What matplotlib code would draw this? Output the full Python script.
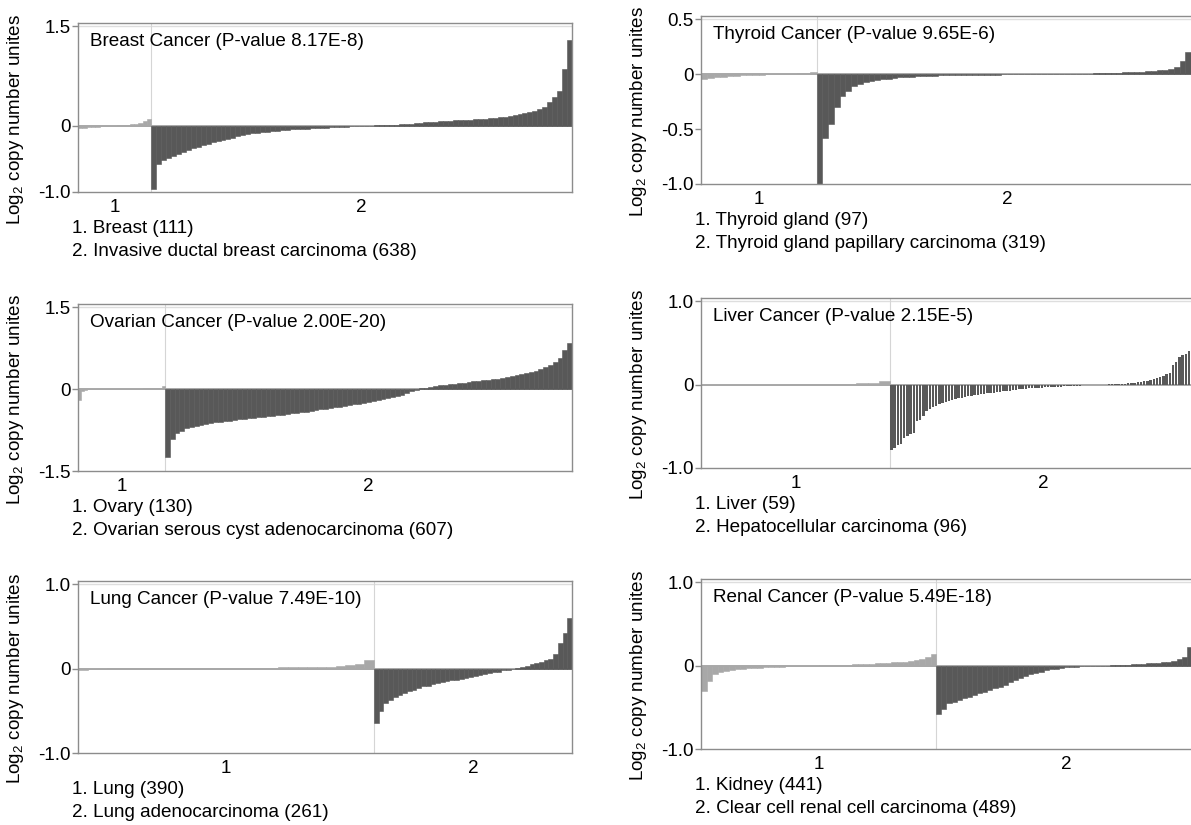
import matplotlib
matplotlib.use("Agg")
import matplotlib.pyplot as plt

plt.rcParams['font.family'] = ['Liberation Sans', 'DejaVu Sans']
plt.rcParams['mathtext.fontset'] = 'custom'
plt.rcParams['mathtext.rm'] = 'Liberation Sans'
plt.rcParams['mathtext.default'] = 'regular'

# ---- data (sorted log2 copy number) ----
breast_title = "Breast Cancer (P-value 8.17E-8)"
breast_names = ["1. Breast (111)", "2. Invasive ductal breast carcinoma (638)"]
breast_counts = [111, 638]
breast_yticks = [-1.0, 0, 1.5]
breast_ylabels = ["-1.0", "0", "1.5"]
breast_normal = [-0.04, -0.03, -0.025, -0.02, -0.015, -0.01, -0.006, -0.003, 0.0, 0.004,
                 0.008, 0.013, 0.02, 0.03, 0.045, 0.07, 0.1]
breast_tumor = [-0.95, -0.58, -0.52, -0.49, -0.46, -0.43, -0.40, -0.37, -0.34, -0.32,
                -0.295, -0.27, -0.25, -0.23, -0.215, -0.20, -0.18, -0.16, -0.14, -0.125,
                -0.115, -0.105, -0.095, -0.088, -0.08, -0.074, -0.068, -0.062, -0.056, -0.05,
                -0.046, -0.042, -0.038, -0.034, -0.03, -0.027, -0.023, -0.019, -0.015, -0.012,
                -0.009, -0.007, -0.005, -0.002, 0.002, 0.004, 0.006, 0.01, 0.014, 0.018,
                0.022, 0.028, 0.033, 0.038, 0.044, 0.05, 0.055, 0.06, 0.065, 0.07,
                0.075, 0.08, 0.084, 0.088, 0.092, 0.096, 0.10, 0.107, 0.112, 0.118,
                0.127, 0.137, 0.147, 0.16, 0.175, 0.19, 0.205, 0.225, 0.25, 0.29,
                0.36, 0.43, 0.53, 0.85, 1.3]

thyroid_title = "Thyroid Cancer (P-value 9.65E-6)"
thyroid_names = ["1. Thyroid gland (97)", "2. Thyroid gland papillary carcinoma (319)"]
thyroid_counts = [97, 319]
thyroid_yticks = [-1.0, -0.5, 0, 0.5]
thyroid_ylabels = ["-1.0", "-0.5", "0", "0.5"]
thyroid_normal = [-0.045, -0.035, -0.028, -0.022, -0.017, -0.013, -0.01, -0.007, -0.005,
                  -0.003, -0.001, 0.0, 0.002, 0.004, 0.006, 0.009, 0.013, 0.02]
thyroid_tumor = [-1.0, -0.58, -0.45, -0.30, -0.20, -0.15, -0.11, -0.09, -0.07, -0.06,
                 -0.05, -0.045, -0.04, -0.035, -0.03, -0.025, -0.022, -0.02, -0.018, -0.015,
                 -0.013, -0.011, -0.01, -0.009, -0.008, -0.007, -0.006, -0.005, -0.004, -0.004,
                 -0.003, -0.003, -0.002, -0.002, -0.001, -0.001, 0.0, 0.0, 0.0, 0.001,
                 0.001, 0.002, 0.002, 0.003, 0.003, 0.004, 0.005, 0.006, 0.007, 0.008,
                 0.01, 0.012, 0.014, 0.016, 0.018, 0.02, 0.023, 0.026, 0.03, 0.035,
                 0.04, 0.05, 0.07, 0.12, 0.2, 0.35]

ovarian_title = "Ovarian Cancer (P-value 2.00E-20)"
ovarian_names = ["1. Ovary (130)", "2. Ovarian serous cyst adenocarcinoma (607)"]
ovarian_counts = [130, 607]
ovarian_yticks = [-1.5, 0, 1.5]
ovarian_ylabels = ["-1.5", "0", "1.5"]
ovarian_normal = [-0.2, -0.03, -0.01, 0.0, 0.0, 0.002, 0.003, 0.004, 0.005, 0.005,
                  0.006, 0.006, 0.007, 0.008, 0.008, 0.009, 0.009, 0.01, 0.01, 0.01,
                  0.011, 0.012, 0.013, 0.014, 0.016, 0.019, 0.025, 0.05]
ovarian_tumor = [-1.25, -0.92, -0.81, -0.76, -0.72, -0.69, -0.67, -0.65, -0.635, -0.62,
                 -0.61, -0.595, -0.585, -0.575, -0.565, -0.555, -0.545, -0.535, -0.525, -0.515,
                 -0.505, -0.495, -0.485, -0.475, -0.465, -0.455, -0.445, -0.435, -0.42, -0.41,
                 -0.40, -0.385, -0.37, -0.36, -0.345, -0.335, -0.32, -0.31, -0.295, -0.28,
                 -0.27, -0.25, -0.235, -0.22, -0.20, -0.18, -0.16, -0.14, -0.12, -0.10,
                 -0.07, -0.04, -0.01, 0.015, 0.03, 0.045, 0.06, 0.07, 0.08, 0.09,
                 0.10, 0.11, 0.12, 0.13, 0.14, 0.15, 0.16, 0.17, 0.18, 0.19,
                 0.205, 0.22, 0.235, 0.25, 0.27, 0.29, 0.305, 0.33, 0.37, 0.40,
                 0.44, 0.49, 0.57, 0.72, 0.85]

liver_title = "Liver Cancer (P-value 2.15E-5)"
liver_names = ["1. Liver (59)", "2. Hepatocellular carcinoma (96)"]
liver_counts = [59, 96]
liver_yticks = [-1.0, 0, 1.0]
liver_ylabels = ["-1.0", "0", "1.0"]
liver_normal = [-0.006, -0.003, -0.002, -0.001, 0.0, 0.0, 0.001, 0.002, 0.003, 0.004,
                0.006, 0.008, 0.01, 0.013, 0.017, 0.025, 0.05]
liver_tumor = [-0.78, -0.76, -0.72, -0.71, -0.64, -0.62, -0.59, -0.58, -0.43, -0.42,
               -0.37, -0.31, -0.29, -0.27, -0.25, -0.235, -0.22, -0.21, -0.2, -0.185,
               -0.175, -0.165, -0.155, -0.145, -0.14, -0.13, -0.125, -0.12, -0.115, -0.11,
               -0.105, -0.1, -0.095, -0.09, -0.085, -0.08, -0.075, -0.07, -0.065, -0.06,
               -0.055, -0.05, -0.048, -0.045, -0.042, -0.04, -0.038, -0.035, -0.032, -0.03,
               -0.028, -0.026, -0.024, -0.022, -0.02, -0.018, -0.016, -0.014, -0.012, -0.01,
               -0.008, -0.006, -0.004, -0.003, -0.002, -0.001, 0.0, 0.0,
               0.003, 0.005, 0.007, 0.009, 0.011, 0.014, 0.017, 0.02, 0.025, 0.03,
               0.035, 0.04, 0.05, 0.06, 0.07, 0.08, 0.09, 0.1, 0.13, 0.14,
               0.24, 0.27, 0.33, 0.36, 0.37, 0.4, 0.55, 0.6]

lung_title = "Lung Cancer (P-value 7.49E-10)"
lung_names = ["1. Lung (390)", "2. Lung adenocarcinoma (261)"]
lung_counts = [390, 261]
lung_yticks = [-1.0, 0, 1.0]
lung_ylabels = ["-1.0", "0", "1.0"]
lung_normal = [-0.01, 0.0, 0.002, 0.003, 0.004, 0.005, 0.005, 0.006, 0.006, 0.007,
               0.007, 0.008, 0.008, 0.009, 0.009, 0.01, 0.01, 0.011, 0.012, 0.013,
               0.014, 0.015, 0.016, 0.018, 0.02, 0.022, 0.025, 0.03, 0.04, 0.06, 0.1]
lung_tumor = [-0.65, -0.50, -0.41, -0.37, -0.33, -0.31, -0.29, -0.27, -0.25, -0.23,
              -0.21, -0.2, -0.185, -0.17, -0.16, -0.15, -0.14, -0.13, -0.12, -0.11,
              -0.095, -0.085, -0.075, -0.065, -0.055, -0.045, -0.035, -0.02, -0.01, 0.0,
              0.01, 0.025, 0.035, 0.05, 0.065, 0.08, 0.1, 0.12, 0.17, 0.3, 0.42, 0.6]

renal_title = "Renal Cancer (P-value 5.49E-18)"
renal_names = ["1. Kidney (441)", "2. Clear cell renal cell carcinoma (489)"]
renal_counts = [441, 489]
renal_yticks = [-1.0, 0, 1.0]
renal_ylabels = ["-1.0", "0", "1.0"]
renal_normal = [-0.3, -0.18, -0.1, -0.075, -0.06, -0.05, -0.042, -0.036, -0.03, -0.026,
                -0.022, -0.018, -0.015, -0.012, -0.01, -0.008, -0.006, -0.004, -0.002, 0.0,
                0.001, 0.003, 0.005, 0.007, 0.009, 0.011, 0.013, 0.016, 0.019, 0.022,
                0.025, 0.028, 0.032, 0.036, 0.04, 0.045, 0.05, 0.06, 0.07, 0.085, 0.1, 0.14]
renal_tumor = [-0.58, -0.52, -0.45, -0.43, -0.41, -0.39, -0.37, -0.35, -0.33, -0.31,
               -0.29, -0.27, -0.25, -0.23, -0.2, -0.175, -0.15, -0.125, -0.1, -0.085,
               -0.07, -0.055, -0.045, -0.035, -0.028, -0.02, -0.016, -0.012, -0.008, -0.006,
               -0.004, -0.002, 0.0, 0.002, 0.004, 0.007, 0.01, 0.013, 0.016, 0.02,
               0.023, 0.027, 0.031, 0.036, 0.042, 0.05, 0.06, 0.075, 0.11, 0.22, 0.35]

# ---- styling / layout ----
FIG_W, FIG_H = 1191, 825
LIGHT = "#a8a8a8"
DARK = "#585858"
FRAME = "#8c8c8c"
FS = 13.6


def place(left, top, right, bottom):
    return [left / FIG_W, 1 - bottom / FIG_H, (right - left) / FIG_W, (bottom - top) / FIG_H]


def draw_group(ax, start, n, values, color):
    m = len(values)
    step = n / m
    xs = [start + step * (i + 0.5) for i in range(m)]
    if m == n:
        # one bar per sample: thin bars with small gaps
        ax.bar(xs, values, width=step * 0.7, color=color, linewidth=0, zorder=2)
    else:
        ax.bar(xs, values, width=step, color=color, edgecolor=color, linewidth=0.4, zorder=2)


def draw_panel(ax, title, names, counts, normal, tumor, yticks, ylabels):
    n1, n2 = counts
    lo, hi = yticks[0], yticks[-1]
    ax.axhline(0, color="#9a9a9a", lw=1.2, zorder=1)
    ax.axhline(hi, color="#dedede", lw=1, zorder=0)
    ax.axvline(n1, color="#d5d5d5", lw=0.8, zorder=0)
    draw_group(ax, 0, n1, normal, LIGHT)
    draw_group(ax, n1, n2, tumor, DARK)

    ax.set_xlim(0, n1 + n2)
    ax.set_ylim(lo, hi + 0.02 * (hi - lo))
    ax.set_yticks(yticks, ylabels)
    ax.set_xticks([n1 / 2, n1 + n2 / 2], ["1", "2"])
    ax.tick_params(axis="x", length=0, pad=5, labelsize=FS)
    ax.tick_params(axis="y", length=4, width=1, color=FRAME, pad=1.5, labelsize=FS)
    for sp in ax.spines.values():
        sp.set_color(FRAME)
        sp.set_linewidth(1)

    ax.set_ylabel(r"Log$_2$ copy number unites", fontsize=FS)
    ax.yaxis.set_label_coords(-0.105, 0.43)

    ax.annotate(title, xy=(0, 1), xycoords="axes fraction", xytext=(8.5, -13),
                textcoords="offset points", ha="left", va="center", fontsize=FS)
    for k, name in enumerate(names):
        ax.annotate(name, xy=(0, 0), xycoords="axes fraction", xytext=(-4.5, -26.5 - 16.5 * k),
                    textcoords="offset points", ha="left", va="center", fontsize=FS,
                    annotation_clip=False)


fig = plt.figure(figsize=(FIG_W / 100, FIG_H / 100), dpi=100)

panels = [
    ((78, 23, 572, 192), breast_title, breast_names, breast_counts, breast_normal, breast_tumor,
     breast_yticks, breast_ylabels),
    ((78, 304, 572, 471), ovarian_title, ovarian_names, ovarian_counts, ovarian_normal, ovarian_tumor,
     ovarian_yticks, ovarian_ylabels),
    ((78, 581, 572, 753), lung_title, lung_names, lung_counts, lung_normal, lung_tumor,
     lung_yticks, lung_ylabels),
    ((701, 16, 1197, 184), thyroid_title, thyroid_names, thyroid_counts, thyroid_normal, thyroid_tumor,
     thyroid_yticks, thyroid_ylabels),
    ((701, 298, 1197, 468), liver_title, liver_names, liver_counts, liver_normal, liver_tumor,
     liver_yticks, liver_ylabels),
    ((701, 579, 1197, 749), renal_title, renal_names, renal_counts, renal_normal, renal_tumor,
     renal_yticks, renal_ylabels),
]

for box, *args in panels:
    ax = fig.add_axes(place(*box))
    draw_panel(ax, *args)

fig.savefig("out.png", dpi=100)
